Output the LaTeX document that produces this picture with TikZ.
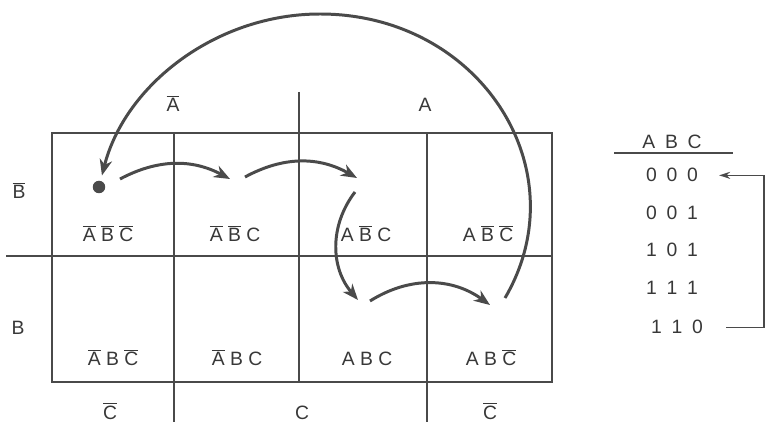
\documentclass[tikz,border=0pt]{standalone}
\usepackage{fontspec}
\setmainfont{Liberation Sans}
\usetikzlibrary{arrows.meta,positioning}
\definecolor{ink}{HTML}{4A4A4A}
\definecolor{txt}{HTML}{383838}
\newcommand{\ovl}[1]{$\overline{\mbox{#1}}$}
\newcommand{\dg}{\hspace{5.5pt}}

\begin{document}
\begin{tikzpicture}[x=0.02cm, y=-0.02cm,
  rule/.style={draw=ink, line width=0.8pt},
  lbl/.style={anchor=base, inner sep=0pt, text=txt, font=\fontsize{11}{13}\selectfont},
  arr/.style={-{Stealth[length=3.2mm, width=2.5mm, inset=1mm]}, line width=1.7pt, ink},
  tarr/.style={-{Stealth[length=2.2mm, width=1.4mm]}, line width=0.9pt, ink}
]
  \useasboundingbox (0,0) rectangle (768,422);

  \draw[rule] (52,133) rectangle (552,382);
  \draw[rule] (6,256) -- (552,256);
  \draw[rule] (174,133) -- (174,422);
  \draw[rule] (427,133) -- (427,422);
  \draw[rule] (299,92) -- (299,382);

  \node[lbl] (na) at (173,112) {\ovl{A}};
  \node[lbl] (ya) at (425,112) {A};
  \node[lbl] (nb) at (19,199) {\ovl{B}};
  \node[lbl] (yb) at (18,335) {B};
  \node[lbl] (nc1) at (110,419) {\ovl{C}};
  \node[lbl] (yc) at (302,419) {C};
  \node[lbl] (nc2) at (490,419) {\ovl{C}};

  \node[lbl] (m0) at (108,242) {\ovl{A} \ovl{B} \ovl{C}};
  \node[lbl] (m1) at (235,242) {\ovl{A} \ovl{B} C};
  \node[lbl] (m5) at (366,242) {A \ovl{B} C};
  \node[lbl] (m4) at (488,242) {A \ovl{B} \ovl{C}};
  \node[lbl] (m2) at (113,366) {\ovl{A} B \ovl{C}};
  \node[lbl] (m3) at (237,366) {\ovl{A} B C};
  \node[lbl] (m7) at (367,366) {A B C};
  \node[lbl] (m6) at (491,366) {A B \ovl{C}};

  \node[circle, fill=ink, minimum size=2.5mm, inner sep=0pt] (dot) at (99,187) {};
  \coordinate (p1) at (120,179);
  \coordinate (p2) at (230,179);
  \coordinate (p3) at (245,177);
  \coordinate (p4) at (357,178);
  \coordinate (p5) at (355,192);
  \coordinate (p6) at (358,300);
  \coordinate (p7) at (370,301);
  \coordinate (p8) at (490,305);
  \coordinate (p9) at (505,298);

  \draw[arr] (p1) to[bend left=28] (p2);
  \draw[arr] (p3) to[bend left=29] (p4);
  \draw[arr] (p5) to[bend right=39] (p6);
  \draw[arr] (p7) to[bend left=34] (p8);
  \draw[arr, shorten >=3pt] (p9) .. controls (580,170) and (480,14) .. (320,14)
    .. controls (216,14) and (125,85) .. (dot);

  \node[lbl] (hd) at (672,149) {A\dg B\dg C};
  \draw[rule] (614,153) -- (733,153);
  \node[lbl] (r1) at (672,182) {0\dg 0\dg 0};
  \node[lbl] (r2) at (672,220) {0\dg 0\dg 1};
  \node[lbl] (r3) at (672,257) {1\dg 0\dg 1};
  \node[lbl] (r4) at (672,295) {1\dg 1\dg 1};
  \node[lbl] (r5) at (677,334) {1\dg 1\dg 0};
  \draw[tarr] ([xshift=0.46cm]r5.east) -- ++(38,0) |- ([xshift=0.42cm]r1.east);
\end{tikzpicture}
\end{document}
